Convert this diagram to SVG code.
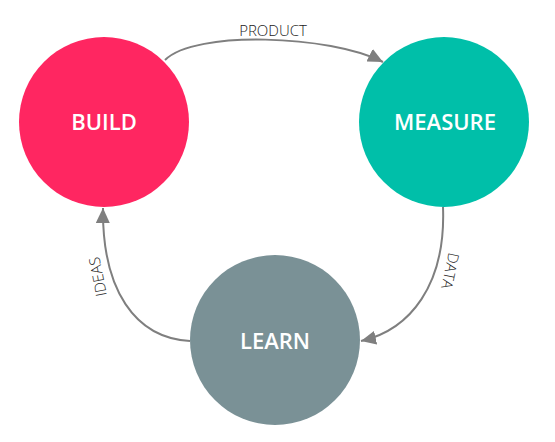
<svg xmlns="http://www.w3.org/2000/svg" width="555" height="442" viewBox="0 0 555 442">
<style>
.node-label{font-family:"Open Sans","Noto Sans",sans-serif;font-weight:600;font-size:22px;fill:#ffffff;text-anchor:middle}
.edge{fill:none;stroke:#7f7f7f;stroke-width:2}
.edge-label{font-family:"Open Sans","Noto Sans",sans-serif;font-weight:300;font-size:15px;fill:#222222;text-anchor:middle}
</style>
<defs>
<marker id="arrow" markerUnits="userSpaceOnUse" markerWidth="16" markerHeight="14" refX="15" refY="7" orient="auto">
<path d="M0,0 L15,7 L0,14 Z" fill="#7f7f7f"/>
</marker>
</defs>
<rect width="555" height="442" fill="#ffffff"/>
<g id="connectors">
<path class="edge" d="M165,60 C195,30 330,35 383,62" marker-end="url(#arrow)"/>
<path class="edge" d="M443,207 C446,285 410,330 361,341" marker-end="url(#arrow)"/>
<path class="edge" d="M190,341 C135,338 102,290 103,208" marker-end="url(#arrow)"/>
<text class="edge-label" x="273" y="36">PRODUCT</text>
<text class="edge-label" transform="translate(441,269) rotate(102)" y="-4">DATA</text>
<text class="edge-label" transform="translate(107,275) rotate(-101)" y="-4">IDEAS</text>
</g>
<g id="build">
<circle cx="104" cy="122" r="85" fill="#ff2661"/>
<text class="node-label" x="104" y="130">BUILD</text>
</g>
<g id="measure">
<circle cx="444" cy="122" r="85" fill="#00bfa9"/>
<text class="node-label" x="445" y="130">MEASURE</text>
</g>
<g id="learn">
<circle cx="275" cy="340" r="85" fill="#7a9196"/>
<text class="node-label" x="275" y="349">LEARN</text>
</g>
</svg>
